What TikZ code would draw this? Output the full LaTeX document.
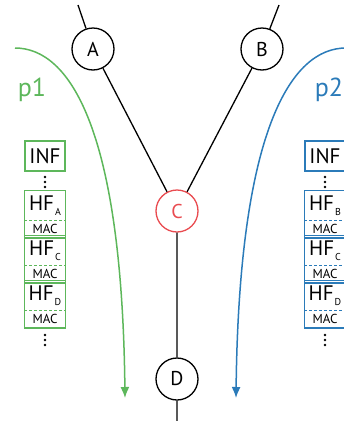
\documentclass[tikz,border=0pt]{standalone}
\usepackage{fontspec}
\setmainfont{PT Sans}
\usetikzlibrary{arrows.meta,positioning,calc}
\definecolor{pgreen}{HTML}{5DB75B}
\definecolor{pblue}{HTML}{2B7BB9}
\definecolor{cred}{HTML}{E94B50}

\begin{document}
\begin{tikzpicture}[x=1pt,y=-1pt,
 line width=1.3pt,
 router/.style={circle,draw,minimum size=42pt,inner sep=0pt,font=\fontsize{20}{20}\selectfont},
 inf/.style={draw,line width=1.5pt,minimum width=40pt,minimum height=30pt,inner sep=0pt,font=\fontsize{21}{21}\selectfont},
 hf/.style={minimum width=40pt,minimum height=29pt,inner sep=0pt,font=\fontsize{21}{21}\selectfont},
 mac/.style={minimum width=40pt,minimum height=16pt,inner sep=0pt,font=\fontsize{13}{13}\selectfont},
 flow/.style={line width=1.5pt,-{Latex[length=11pt,width=9pt]}},
 plabel/.style={inner sep=0pt,font=\fontsize{26}{26}\selectfont}]
\clip (0,0) rectangle (344,421);
% routers
\node[router] (A) at (93,49) {A};
\node[router] (B) at (262,49) {B};
\node[router,draw=cred,text=cred] (C) at (177,211) {C};
\node[router] (D) at (177,379) {D};
\coordinate (a0) at (78,5);
\coordinate (b0) at (279,5);
\coordinate (d0) at (177,425);
\draw (a0) -- (A) -- (C) -- (D) -- (d0);
\draw (b0) -- (B) -- (C);
% paths
\coordinate (g0) at (15,48);
\coordinate (g1) at (125,398);
\coordinate (u0) at (346,48);
\coordinate (u1) at (236,398);
\draw[flow,pgreen] (g0) .. controls (70,48) and (122,130) .. (g1);
\draw[flow,pblue] (u0) .. controls (291,48) and (239,130) .. (u1);
\node[plabel,text=pgreen] (p1) at (32,90) {p1};
\node[plabel,text=pblue] (p2) at (329,90) {p2};
% packet headers
\foreach \n/\x/\c/\f in {1/45/pgreen/A,2/325/pblue/B}{
 \node[inf,draw=\c] (inf\n) at (\x,156) {INF};
 \foreach \y in {177,182,187,335,340,345}
  \fill (\x,\y) circle (1.3pt);
 \foreach \s [count=\i] in {\f,C,D}{
  \node[hf] (hf\n\i) at (\x,{205.5+45*(\i-1)}) {HF\kern1pt\raisebox{-5pt}{\fontsize{10}{10}\selectfont\s}};
  \node[mac,anchor=north] (mac\n\i) at (hf\n\i.south) {MAC};
  \draw[\c,line width=1.5pt] (hf\n\i.north west) rectangle (mac\n\i.south east);
  \draw[\c,line width=1pt,dash pattern=on 3pt off 2pt] (hf\n\i.south west) -- (hf\n\i.south east);
 }
}
\end{tikzpicture}
\end{document}
